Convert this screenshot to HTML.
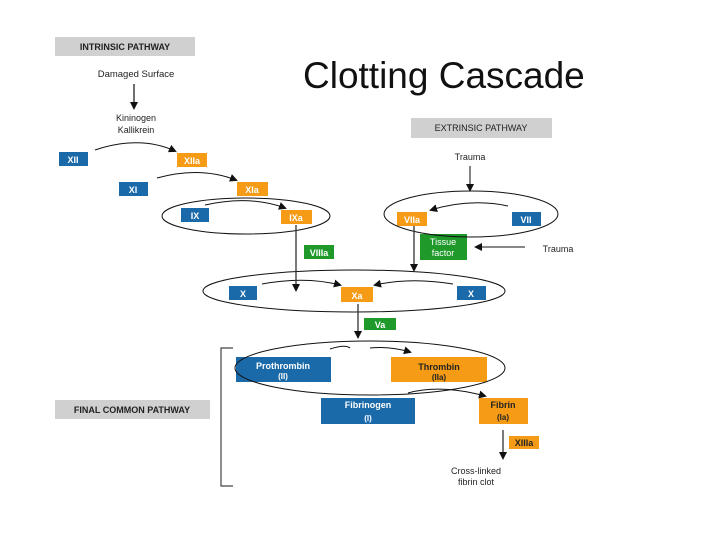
<!DOCTYPE html>
<html><head><style>body{margin:0;background:#fff}svg{display:block}</style></head><body>
<svg width="720" height="540" viewBox="0 0 720 540" xmlns="http://www.w3.org/2000/svg" font-family="Liberation Sans, sans-serif">
<defs><marker id="a" markerWidth="8" markerHeight="8" refX="6" refY="4" orient="auto" markerUnits="userSpaceOnUse"><path d="M0,0 L8,4 L0,8z" fill="#111"/></marker></defs>
<text x="303" y="88" font-size="37" fill="#111">Clotting Cascade</text>
<rect x="55" y="37" width="140" height="19" fill="#d0d0d0"/>
<text x="125" y="50" font-size="9" text-anchor="middle" fill="#222" font-weight="bold">INTRINSIC PATHWAY</text>
<text x="136" y="77" font-size="9.5" text-anchor="middle" fill="#222">Damaged Surface</text>
<line x1="134" y1="84" x2="134" y2="108" stroke="#111" stroke-width="1.2" marker-end="url(#a)"/>
<text x="136" y="121" font-size="9" text-anchor="middle" fill="#222">Kininogen</text>
<text x="136" y="133" font-size="9" text-anchor="middle" fill="#222">Kallikrein</text>
<g font-size="9" fill="#fff" text-anchor="middle" font-weight="bold">
<rect x="59" y="152" width="29" height="14" fill="#1a69a8"/><text x="73" y="163">XII</text>
<rect x="177" y="153" width="30" height="14" fill="#f59b16"/><text x="192" y="164">XIIa</text>
<rect x="119" y="182" width="29" height="14" fill="#1a69a8"/><text x="133" y="193">XI</text>
<rect x="237" y="182" width="31" height="14" fill="#f59b16"/><text x="252" y="193">XIa</text>
<rect x="181" y="208" width="28" height="14" fill="#1a69a8"/><text x="195" y="219">IX</text>
<rect x="281" y="210" width="31" height="14" fill="#f59b16"/><text x="296" y="221">IXa</text>
<rect x="304" y="245" width="30" height="14" fill="#1f9a2a"/><text x="319" y="256">VIIIa</text>
<rect x="397" y="212" width="30" height="14" fill="#f59b16"/><text x="412" y="223">VIIa</text>
<rect x="512" y="212" width="29" height="14" fill="#1a69a8"/><text x="526" y="223">VII</text>
<rect x="420" y="234" width="47" height="26" fill="#1f9a2a"/><text x="443" y="245" font-weight="normal">Tissue</text><text x="443" y="256" font-weight="normal">factor</text>
<rect x="229" y="286" width="28" height="14" fill="#1a69a8"/><text x="243" y="297">X</text>
<rect x="341" y="287" width="32" height="15" fill="#f59b16"/><text x="357" y="299">Xa</text>
<rect x="457" y="286" width="29" height="14" fill="#1a69a8"/><text x="471" y="297">X</text>
<rect x="364" y="318" width="32" height="12" fill="#1f9a2a"/><text x="380" y="328">Va</text>
<rect x="236" y="357" width="95" height="25" fill="#1a69a8"/><text x="283" y="369">Prothrombin</text><text x="283" y="379" font-size="8">(II)</text>
<rect x="391" y="357" width="96" height="25" fill="#f59b16"/><text x="439" y="370" fill="#222">Thrombin</text><text x="439" y="380" fill="#222" font-size="8">(IIa)</text>
<rect x="321" y="398" width="94" height="26" fill="#1a69a8"/><text x="368" y="408">Fibrinogen</text><text x="368" y="421" font-size="8">(I)</text>
<rect x="479" y="398" width="49" height="26" fill="#f59b16"/><text x="503" y="408" fill="#222">Fibrin</text><text x="503" y="420" fill="#222" font-size="8">(Ia)</text>
<rect x="509" y="436" width="30" height="13" fill="#f59b16"/><text x="524" y="446" fill="#222">XIIIa</text>
</g>
<rect x="411" y="118" width="141" height="20" fill="#d0d0d0"/>
<text x="481" y="131" font-size="9" text-anchor="middle" fill="#222">EXTRINSIC PATHWAY</text>
<text x="470" y="160" font-size="9" text-anchor="middle" fill="#222">Trauma</text>
<line x1="470" y1="166" x2="470" y2="190" stroke="#333" stroke-width="1.2" marker-end="url(#a)"/>
<text x="558" y="252" font-size="9" text-anchor="middle" fill="#222">Trauma</text>
<line x1="525" y1="247" x2="476" y2="247" stroke="#111" stroke-width="1" marker-end="url(#a)"/>
<g fill="none" stroke="#111" stroke-width="1">
<ellipse cx="246" cy="216" rx="84" ry="18"/>
<ellipse cx="471" cy="214" rx="87" ry="23"/>
<ellipse cx="354" cy="291" rx="151" ry="21"/>
<ellipse cx="370" cy="368" rx="135" ry="27"/>
<path d="M95,150 Q140,135 175,151" marker-end="url(#a)"/>
<path d="M157,178 Q200,166 236,180" marker-end="url(#a)"/>
<path d="M205,205 Q250,195 285,208" marker-end="url(#a)"/>
<path d="M508,206 Q470,198 431,210" marker-end="url(#a)"/>
<path d="M262,284 Q305,276 340,285" marker-end="url(#a)"/>
<path d="M453,284 Q410,277 375,285" marker-end="url(#a)"/>
<path d="M330,349 Q345,344 350,348"/>
<path d="M370,348 Q390,346 410,352" marker-end="url(#a)"/>
<path d="M408,393 Q440,384 485,396" marker-end="url(#a)"/>
</g>
<g stroke="#333" stroke-width="1.3">
<line x1="296" y1="225" x2="296" y2="290" marker-end="url(#a)"/>
<line x1="414" y1="226" x2="414" y2="270" marker-end="url(#a)"/>
<line x1="358" y1="304" x2="358" y2="337" marker-end="url(#a)"/>
<line x1="503" y1="430" x2="503" y2="458" marker-end="url(#a)"/>
</g>
<path d="M233,348 H221 V486 H233" fill="none" stroke="#444" stroke-width="1.2"/>
<rect x="55" y="400" width="155" height="19" fill="#d0d0d0"/>
<text x="132" y="413" font-size="9" text-anchor="middle" fill="#222" font-weight="bold">FINAL COMMON PATHWAY</text>
<text x="476" y="474" font-size="9" text-anchor="middle" fill="#222">Cross-linked</text>
<text x="476" y="485" font-size="9" text-anchor="middle" fill="#222">fibrin clot</text>
</svg>
</body></html>
